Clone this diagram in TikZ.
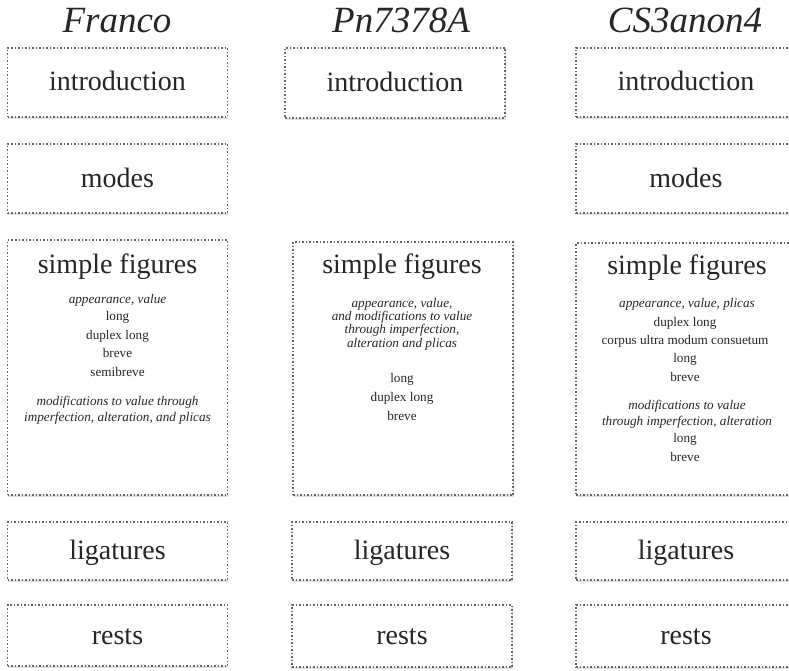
\documentclass[tikz,border=0pt]{standalone}
\usepackage{fontspec}
\setmainfont{Liberation Serif}[
  UprightFont={Liberation Serif},
  ItalicFont={Liberation Serif Italic},
  BoldFont={Liberation Serif Bold}]
\usetikzlibrary{positioning,shadows}

\tikzset{
  part/.style={draw=black!60, dotted, line width=1.5pt, fill=white,
    drop shadow={opacity=0.25, shadow xshift=0.6pt, shadow yshift=-1.8pt},
    minimum width=220pt, inner sep=0pt, font=\fontsize{28}{30}\selectfont,
    text height=22pt, text depth=5pt},
  source/.style={font=\fontsize{37}{40}\selectfont\itshape, anchor=base, inner sep=0pt},
  head/.style={font=\fontsize{28}{30}\selectfont, anchor=base, inner sep=0pt},
  entry/.style={font=\fontsize{13.2}{15}\selectfont, anchor=base, inner sep=0pt},
  gloss/.style={font=\fontsize{13.2}{15}\selectfont\itshape, anchor=base, inner sep=0pt}
}

\begin{document}
\begin{tikzpicture}[x=1pt,y=-1pt,text=black!85]
\useasboundingbox (0,0) rectangle (789,671);

% treatise names
\node[source] (franco) at (117,33) {Franco};
\node[source] (pn) at (401,33) {Pn7378A};
\node[source] (cs) at (685,33) {CS3anon4};

% Franco
\node[part, minimum height=69pt] (fr-intro) at (117.5,82.5) {introduction};
\node[part, minimum height=69pt] (fr-modes) at (117.5,178.5) {modes};
\node[part, minimum height=255pt] (fr-simple) at (117.5,367.5) {};
\node[part, minimum height=58pt] (fr-lig) at (117.5,551) {ligatures};
\node[part, minimum height=61pt] (fr-rests) at (117.5,635.5) {rests};
\node[head] (fr-head) at (117.5,273) {simple figures};
\foreach \y/\t in {303/{appearance, value}, 405/modifications to value through,
  421/{imperfection, alteration, and plicas}}
  \node[gloss] (fr-g\y) at (117.5,\y) {\t};
\foreach \y/\t in {320/long, 339/duplex long, 357/breve, 376/semibreve}
  \node[entry] (fr-e\y) at (117.5,\y) {\t};

% Pn7378A
\node[part, minimum height=70pt] (pn-intro) at (395,83) {introduction};
\node[part, minimum height=253pt] (pn-simple) at (403,368.5) {};
\node[part, minimum height=58pt] (pn-lig) at (402,551) {ligatures};
\node[part, minimum height=62pt] (pn-rests) at (402,636) {rests};
\node[head] (pn-head) at (402,273) {simple figures};
\foreach \y/\t in {307/{appearance, value,}, 320/and modifications to value,
  333/{through imperfection,}, 347/alteration and plicas}
  \node[gloss] (pn-g\y) at (402,\y) {\t};
\foreach \y/\t in {382/long, 401/duplex long, 420/breve}
  \node[entry] (pn-e\y) at (402,\y) {\t};

% CS3anon4
\node[part, minimum height=69pt] (cs-intro) at (686,82.5) {introduction};
\node[part, minimum height=69pt] (cs-modes) at (686,178.5) {modes};
\node[part, minimum height=252pt] (cs-simple) at (686,369) {};
\node[part, minimum height=58pt] (cs-lig) at (686,551) {ligatures};
\node[part, minimum height=62pt] (cs-rests) at (686,636) {rests};
\node[head] (cs-head) at (687,274) {simple figures};
\foreach \y/\t in {307/{appearance, value, plicas}, 409/modifications to value,
  425/{through imperfection, alteration}}
  \node[gloss] (cs-g\y) at (687,\y) {\t};
\foreach \y/\t in {326/duplex long, 344/corpus ultra modum consuetum, 362/long,
  381/breve, 442/long, 461/breve}
  \node[entry] (cs-e\y) at (685,\y) {\t};
\end{tikzpicture}
\end{document}
